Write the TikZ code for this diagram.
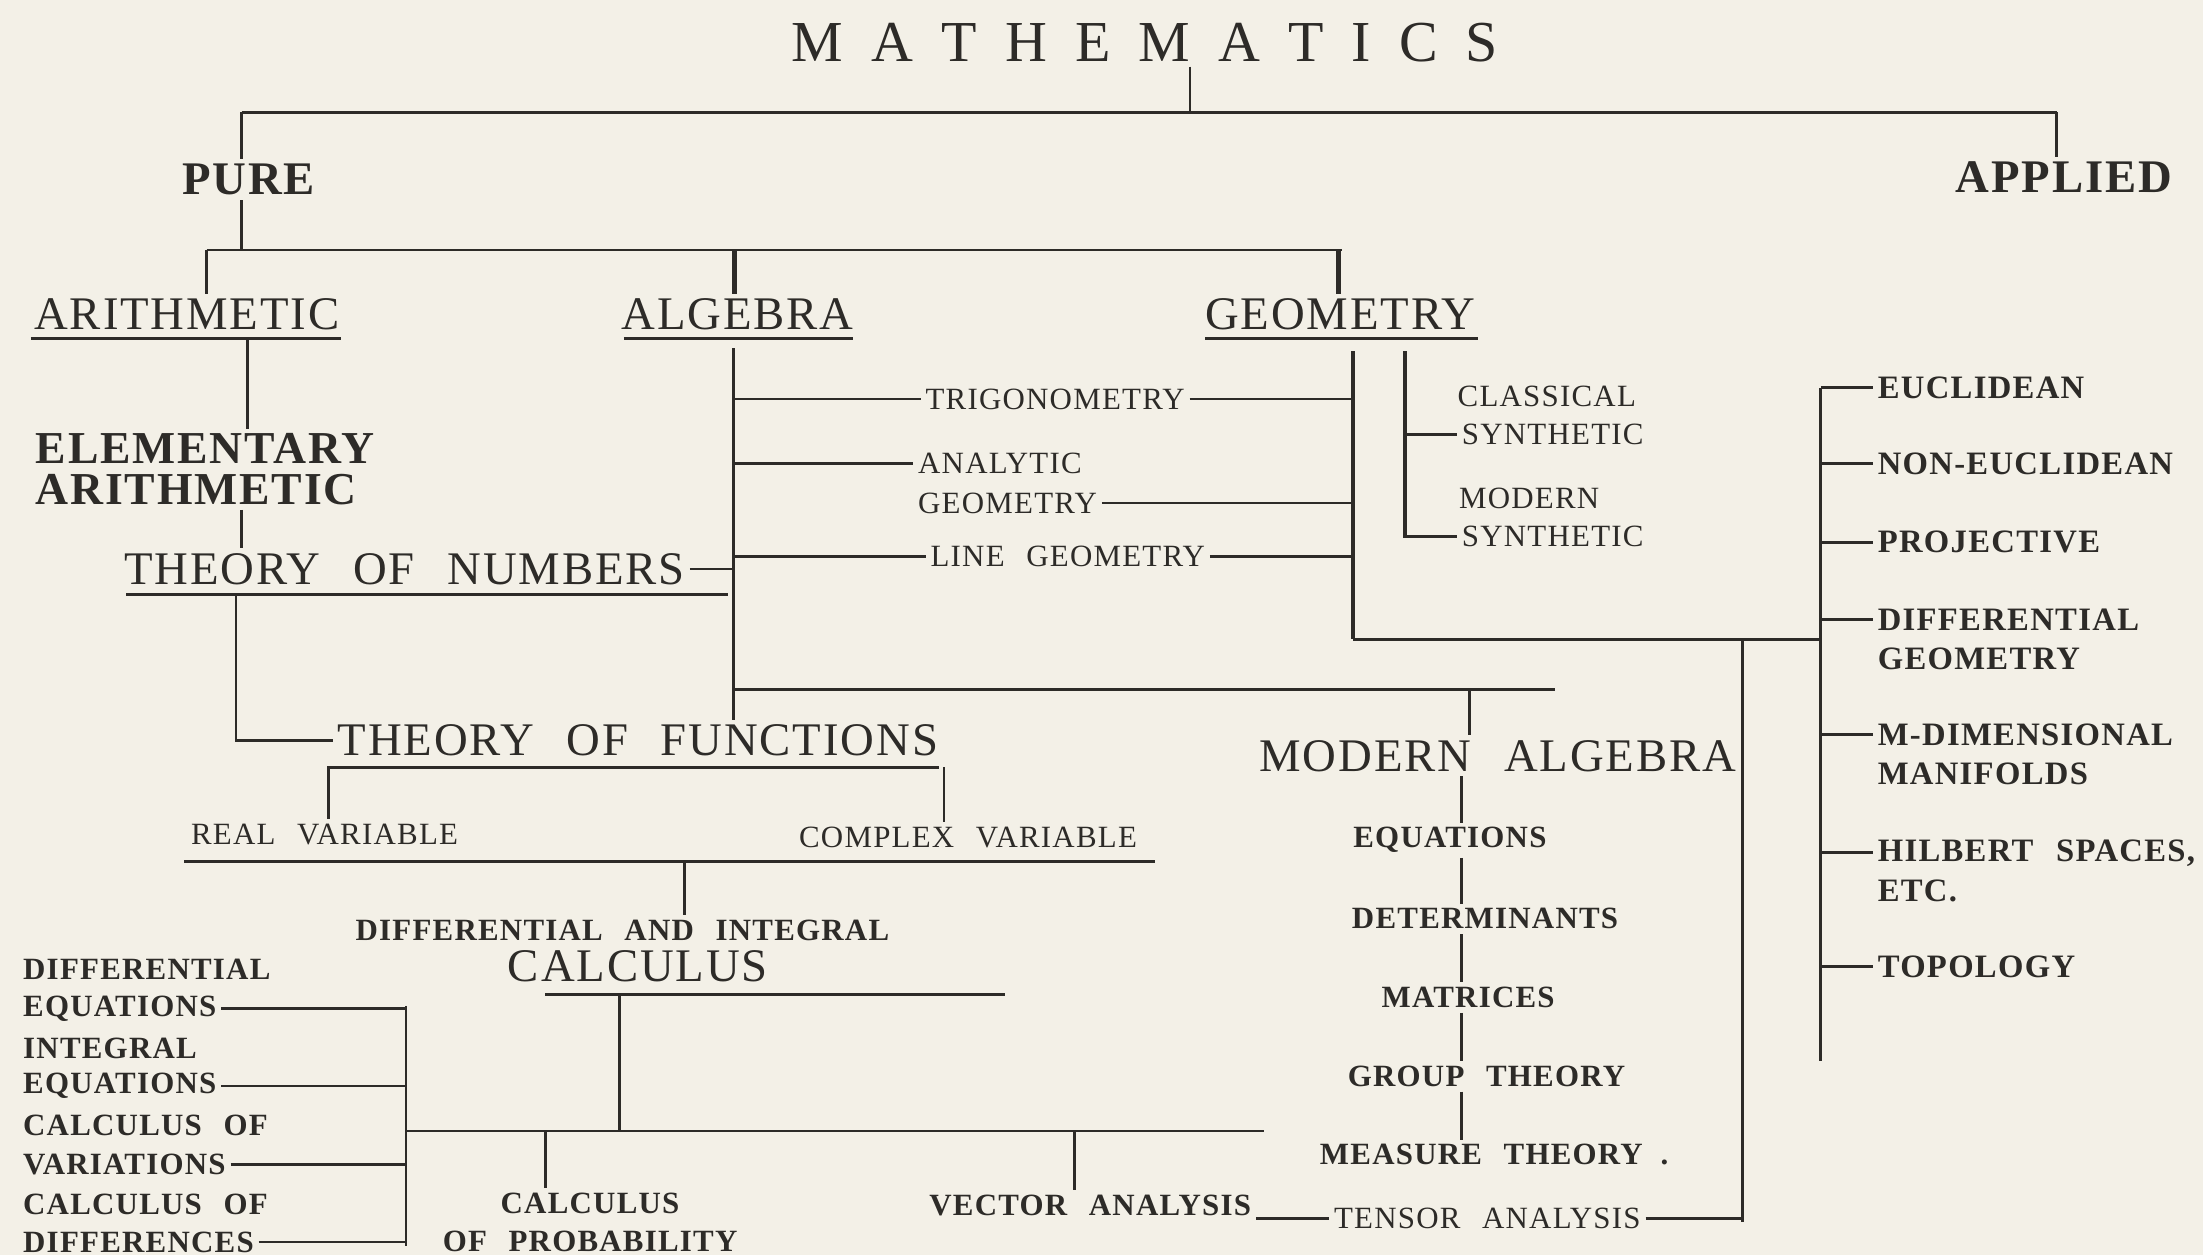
\documentclass[tikz,border=0pt]{standalone}
\usepackage{fontspec}
\setmainfont{Liberation Serif}
\newfontfamily\bigf[LetterSpace=4]{Liberation Serif}
\newfontfamily\smf[LetterSpace=4]{Liberation Serif}
\newcommand\ws{\hspace{0.7em}}
\newcommand\tg{\hspace{8pt}}
\definecolor{paper}{RGB}{243,240,231}
\definecolor{ink}{RGB}{45,43,40}
\tikzset{
  lbl/.style={inner sep=1pt, text=ink},
  big/.style={lbl, font=\bigf\fontsize{13.3}{15}\selectfont},
  bigb/.style={lbl, font=\bigf\bfseries\fontsize{13.3}{15}\selectfont},
  sm/.style={lbl, font=\smf\fontsize{8.8}{10.8}\selectfont},
  smb/.style={lbl, font=\smf\bfseries\fontsize{8.8}{10.8}\selectfont},
  apb/.style={lbl, anchor=west, font=\smf\bfseries\fontsize{9.3}{11}\selectfont},
  thk/.style={line width=1.4pt},
}
\begin{document}
\begin{tikzpicture}[x=0.01405cm, y=-0.01405cm, line width=0.8pt, draw=ink]
\fill[paper] (0,0) rectangle (1568,893);
\useasboundingbox (0,0) rectangle (1568,893);

% ---------- nodes ----------
\node[lbl, font=\fontsize{16.5}{18}\selectfont] (title) at (815,30) {M\tg A\tg T\tg H\tg E\tg M\tg A\tg T\tg I\tg C\tg S};
\node[bigb] (pure) at (177,128) {PURE};
\node[bigb] (applied) at (1469,126) {APPLIED};
\node[big] (arith) at (133,224) {ARITHMETIC};
\node[big] (alg) at (525,224) {ALGEBRA};
\node[big] (geo) at (954,224) {GEOMETRY};
\node[lbl, anchor=west, align=left, font=\bigf\bfseries\fontsize{13}{11.6}\selectfont] (elem) at (22,334) {ELEMENTARY\\ARITHMETIC};
\node[big] (numbers) at (288,405) {THEORY\ws OF\ws NUMBERS};
\node[big] (func) at (454,527) {THEORY\ws OF\ws FUNCTIONS};
\node[sm] (trig) at (751,284) {TRIGONOMETRY};
\node[sm, anchor=west] (an1) at (650,330) {ANALYTIC};
\node[sm, anchor=west] (an2) at (650,358) {GEOMETRY};
\node[sm] (lg) at (760,396) {LINE\ws GEOMETRY};
\node[sm, anchor=west] (cs1) at (1034,282) {CLASSICAL};
\node[sm, anchor=west] (cs2) at (1037,309) {SYNTHETIC};
\node[sm, anchor=west] (ms1) at (1035,355) {MODERN};
\node[sm, anchor=west] (ms2) at (1037,382) {SYNTHETIC};
\node[apb] (eu) at (1333,276) {EUCLIDEAN};
\node[apb] (ne) at (1333,330) {NON-EUCLIDEAN};
\node[apb] (pr) at (1333,386) {PROJECTIVE};
\node[apb] (dg1) at (1333,441) {DIFFERENTIAL};
\node[apb] (dg2) at (1333,469) {GEOMETRY};
\node[apb] (md1) at (1333,523) {M-DIMENSIONAL};
\node[apb] (md2) at (1333,551) {MANIFOLDS};
\node[apb] (hs1) at (1333,607) {HILBERT\ws SPACES,};
\node[apb] (hs2) at (1333,634) {ETC.};
\node[apb] (topo) at (1333,688) {TOPOLOGY};
\node[big] (ma) at (1066,538) {MODERN\ws ALGEBRA};
\node[smb] (eq) at (1032,598) {EQUATIONS};
\node[smb] (det) at (1057,654) {DETERMINANTS};
\node[smb] (mat) at (1045,710) {MATRICES};
\node[smb] (grp) at (1058,766) {GROUP\ws THEORY};
\node[smb, anchor=west] (meas) at (936,822) {MEASURE\ws THEORY\ \ .};
\node[sm, anchor=west] (tensor) at (946,867) {TENSOR\ws ANALYSIS};
\node[sm] (rv) at (231,594) {REAL\ws VARIABLE};
\node[sm] (cxv) at (689,596) {COMPLEX\ws VARIABLE};
\node[smb] (dai) at (443,662) {DIFFERENTIAL\ws AND\ws INTEGRAL};
\node[big] (calc) at (454,688) {CALCULUS};
\node[smb, anchor=west] (de1) at (13,690) {DIFFERENTIAL};
\node[smb, anchor=west] (de2) at (13,718) {EQUATIONS};
\node[smb, anchor=west] (ie1) at (13,746) {INTEGRAL};
\node[smb, anchor=west] (ie2) at (13,773) {EQUATIONS};
\node[smb, anchor=west] (cv1) at (13,801) {CALCULUS\ws OF};
\node[smb, anchor=west] (cv2) at (13,829) {VARIATIONS};
\node[smb, anchor=west] (cd1) at (13,857) {CALCULUS\ws OF};
\node[smb, anchor=west] (cd2) at (13,884) {DIFFERENCES};
\node[smb, align=center, font=\smf\bfseries\fontsize{8.8}{10.8}\selectfont] (prob) at (420,870) {CALCULUS\\OF\ws PROBABILITY};
\node[smb] (va) at (776,858) {VECTOR\ws ANALYSIS};

% ---------- coordinates ----------
\coordinate (tbL) at (172,80);  \coordinate (tbR) at (1464,80); \coordinate (tbM) at (847,80);
\coordinate (pbL) at (147,178); \coordinate (pbR) at (955,178);
\coordinate (pbA) at (523,178); \coordinate (pbG) at (953,178);
\coordinate (arU1) at (22,241);  \coordinate (arU2) at (243,241);
\coordinate (alU1) at (444,241); \coordinate (alU2) at (607,241);
\coordinate (geU1) at (858,241); \coordinate (geU2) at (1052,241);
\coordinate (arV) at (176,241);  \coordinate (elX) at (172,0);
\coordinate (nuU1) at (90,423);  \coordinate (nuU2) at (518,423); \coordinate (nuV) at (168,423);
\coordinate (algT) at (522,248); \coordinate (algH) at (522,491);
\coordinate (algHR) at (1107,491); \coordinate (maT) at (1046,491);
\coordinate (geoT) at (963,250); \coordinate (geoB) at (963,455);
\coordinate (brT) at (1000,250); \coordinate (brB) at (1000,383);
\coordinate (appT) at (1296,276); \coordinate (appB) at (1296,755);
\coordinate (tenT) at (1240,455); \coordinate (tenB) at (1240,870);
\coordinate (chX) at (1040,0);
\coordinate (fuU1) at (233,546); \coordinate (fuU2) at (668,546);
\coordinate (rvV) at (234,546);  \coordinate (cxV) at (672,546);
\coordinate (vrU1) at (131,613); \coordinate (vrU2) at (822,613); \coordinate (daiV) at (487,613);
\coordinate (caU1) at (388,708); \coordinate (caU2) at (715,708);
\coordinate (caV) at (441,708);  \coordinate (caVB) at (441,805);
\coordinate (bar1) at (289,805); \coordinate (bar2) at (900,805);
\coordinate (llT) at (289,716);  \coordinate (llB) at (289,887);
\coordinate (prV) at (388,805);  \coordinate (vaV) at (765,805);

% ---------- connectors ----------
\draw (title.south -| tbM) -- (tbM);
\draw (tbL) -- (tbR);
\draw (tbL) -- (pure.north -| tbL);
\draw (tbR) -- (applied.north -| tbR);
\draw (pure.south -| tbL) -- (tbL |- pbL);
\draw (pbL) -- (pbR);
\draw (pbL) -- (arith.north -| pbL);
\draw[thk] (pbA) -- (alg.north -| pbA);
\draw[thk] (pbG) -- (geo.north -| pbG);
\draw (arU1) -- (arU2);
\draw (alU1) -- (alU2);
\draw (geU1) -- (geU2);
% arithmetic
\draw (arV) -- (elem.north -| arV);
\draw (elem.south -| elX) -- (numbers.north -| elX);
\draw (nuU1) -- (nuU2);
\draw (numbers.east) -- (numbers.east -| algT);
\draw (nuV) |- (func.west);
% algebra
\draw (algT) -- (func.north -| algT);
\draw (algH) -- (algHR);
\draw (maT) -- (ma.north -| maT);
\draw (trig.west -| algT) -- (trig.west);
\draw (trig.east) -- (trig.east -| geoT);
\draw (an1.west -| algT) -- (an1.west);
\draw (an2.east) -- (an2.east -| geoT);
\draw (lg.west -| algT) -- (lg.west);
\draw (lg.east) -- (lg.east -| geoT);
% geometry
\draw[thk] (geoT) -- (geoB);
\draw (geoB) -- (geoB -| appT);
\draw[thk] (brT) -- (brB);
\draw (cs2.west -| brT) -- (cs2.west);
\draw (ms2.west -| brT) -- (ms2.west);
\draw (appT) -- (appB);
\foreach \n in {eu,ne,pr,dg1,md1,hs1,topo} \draw (\n.west -| appT) -- (\n.west);
\draw (tenT) -- (tenB);
\draw (tensor.east) -- (tensor.east -| tenT);
\draw (va.east |- tensor.west) -- (tensor.west);
% modern algebra chain
\draw (ma.south -| chX) -- (eq.north -| chX);
\draw (eq.south -| chX) -- (det.north -| chX);
\draw (det.south -| chX) -- (mat.north -| chX);
\draw (mat.south -| chX) -- (grp.north -| chX);
\draw (grp.south -| chX) -- (meas.north -| chX);
% functions
\draw (fuU1) -- (fuU2);
\draw (rvV) -- (rv.north -| rvV);
\draw[line width=0.5pt] (cxV) -- (cxv.north -| cxV);
\draw (vrU1) -- (vrU2);
\draw (daiV) -- (dai.north -| daiV);
\draw (caU1) -- (caU2);
\draw (caV) -- (caVB);
\draw (bar1) -- (bar2);
\draw (llT) -- (llB);
\foreach \n in {de2,ie2,cv2,cd2} \draw (\n.east) -- (\n.east -| llT);
\draw (prV) -- (prob.north -| prV);
\draw (vaV) -- (va.north -| vaV);
\end{tikzpicture}
\end{document}
